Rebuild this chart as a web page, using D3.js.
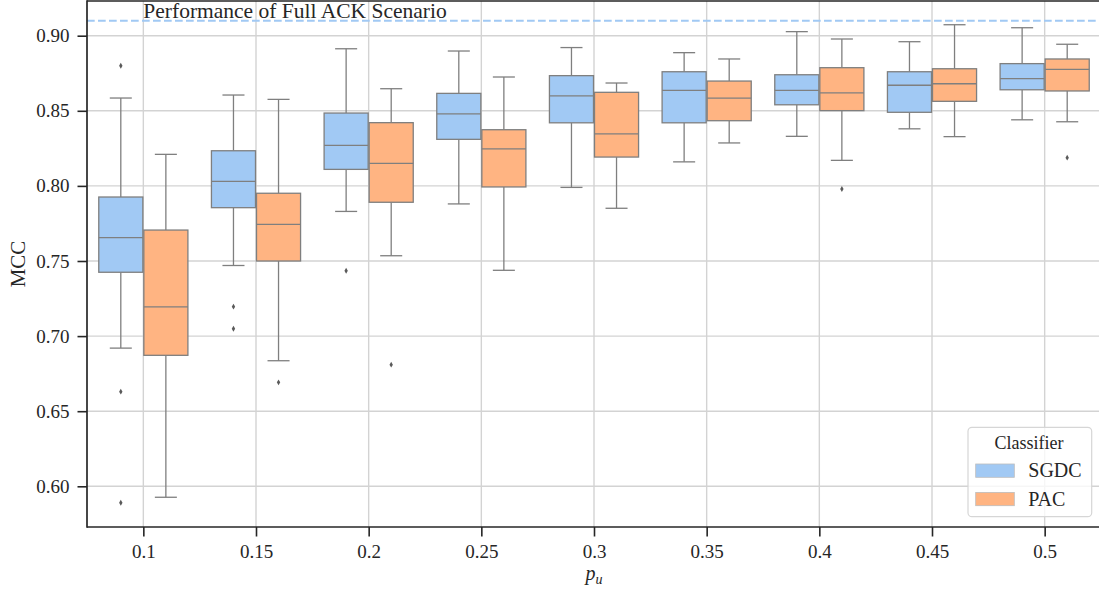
<!DOCTYPE html>
<html>
<head>
<meta charset="utf-8">
<script src="https://cdn.jsdelivr.net/npm/d3@7"></script>
<style>
  body { margin: 0; background: #fff; }
  svg text { font-family: "Liberation Serif", "DejaVu Serif", serif; fill: #262626; }
</style>
</head>
<body>
<svg id="chart" width="1099" height="589"></svg>
<script>
// p_u values on the x axis
let pu = ["0.1", "0.15", "0.2", "0.25", "0.3", "0.35", "0.4", "0.45", "0.5"];
let classifiers = ["SGDC", "PAC"];
let colors = ["#a1c9f4", "#ffb482"];
let yTicks = [0.60, 0.65, 0.70, 0.75, 0.80, 0.85, 0.90];
let fullAck = 0.91;

// SGDC box stats (whisker low, q1, median, q3, whisker high)
let sgdcLow  = [0.692, 0.747, 0.783, 0.788, 0.799, 0.816, 0.833, 0.838, 0.844];
let sgdcQ1   = [0.7425, 0.7855, 0.811, 0.831, 0.842, 0.842, 0.854, 0.849, 0.864];
let sgdcMed  = [0.7655, 0.803, 0.827, 0.848, 0.860, 0.8636, 0.8636, 0.867, 0.8714];
let sgdcQ3   = [0.7926, 0.8234, 0.8485, 0.8616, 0.8734, 0.876, 0.874, 0.876, 0.8814];
let sgdcHigh = [0.8585, 0.8605, 0.8913, 0.8898, 0.8921, 0.8887, 0.9027, 0.896, 0.9053];
let sgdcOut  = [[0.880, 0.663, 0.589], [0.7196, 0.7049], [0.7435], [], [], [], [], [], []];

// PAC box stats
let pacLow  = [0.5927, 0.6836, 0.7535, 0.7438, 0.7851, 0.8286, 0.817, 0.8328, 0.8427];
let pacQ1   = [0.6872, 0.75, 0.7891, 0.7993, 0.8192, 0.8434, 0.8501, 0.8563, 0.8632];
let pacMed  = [0.7194, 0.7744, 0.815, 0.8246, 0.8346, 0.8585, 0.8619, 0.868, 0.8776];
let pacQ3   = [0.7706, 0.7951, 0.8421, 0.8374, 0.8623, 0.8698, 0.8787, 0.878, 0.8845];
let pacHigh = [0.821, 0.8576, 0.8647, 0.8725, 0.8685, 0.8845, 0.8978, 0.9073, 0.8943];
let pacOut  = [[], [0.6692], [0.681], [], [], [], [0.7979], [], [0.8188]];

let plotLeft = 87, plotRight = 1101, plotTop = 1, plotBottom = 527;
let lineGray = "#7f7f7f";
let serif = "'Liberation Serif', 'DejaVu Serif', serif";

let x = d3.scaleLinear().domain([-0.5, pu.length - 0.5]).range([plotLeft, plotRight]);
let y = d3.scaleLinear().domain([0.5729, 0.9231]).range([plotBottom, plotTop]);
let step = x(1) - x(0);

function buildBoxes() {
    let stats = [
        [sgdcLow, sgdcQ1, sgdcMed, sgdcQ3, sgdcHigh, sgdcOut],
        [pacLow, pacQ1, pacMed, pacQ3, pacHigh, pacOut]
    ];
    let boxes = [];
    for (let h = 0; h < classifiers.length; h++) {
        let s = stats[h];
        for (let i = 0; i < pu.length; i++) {
            boxes.push({
                cat: i, hue: h,
                low: s[0][i], q1: s[1][i], med: s[2][i], q3: s[3][i], high: s[4][i],
                out: s[5][i]
            });
        }
    }
    return boxes;
}

function drawChart() {
    let svg = d3.select("#chart");
    let boxes = buildBoxes();
    let boxW = 0.4 * step - 1;
    let centre = function(d) { return x(d.cat) + (d.hue === 0 ? -0.2 : 0.2) * step; };

    svg.append("clipPath").attr("id", "plotClip")
        .append("rect")
        .attr("x", plotLeft).attr("y", plotTop)
        .attr("width", plotRight - plotLeft).attr("height", plotBottom - plotTop);

    // grid
    let grid = svg.append("g").attr("clip-path", "url(#plotClip)");
    grid.selectAll("line.gy")
        .data(yTicks)
        .enter().append("line")
        .attr("x1", plotLeft).attr("x2", plotRight)
        .attr("y1", function(d) { return y(d); })
        .attr("y2", function(d) { return y(d); })
        .style("stroke", "#d3d3d3").style("stroke-width", 1.4);
    grid.selectAll("line.gx")
        .data(pu)
        .enter().append("line")
        .attr("x1", function(d, i) { return x(i); })
        .attr("x2", function(d, i) { return x(i); })
        .attr("y1", plotTop).attr("y2", plotBottom)
        .style("stroke", "#d3d3d3").style("stroke-width", 1.4);

    let plot = svg.append("g").attr("clip-path", "url(#plotClip)");

    // whiskers
    let g = plot.selectAll("g.box")
        .data(boxes)
        .enter().append("g");

    g.append("line")
        .attr("x1", centre).attr("x2", centre)
        .attr("y1", function(d) { return y(d.low); })
        .attr("y2", function(d) { return y(d.q1); })
        .style("stroke", lineGray).style("stroke-width", 1.3);
    g.append("line")
        .attr("x1", centre).attr("x2", centre)
        .attr("y1", function(d) { return y(d.q3); })
        .attr("y2", function(d) { return y(d.high); })
        .style("stroke", lineGray).style("stroke-width", 1.3);
    g.append("line")
        .attr("x1", function(d) { return centre(d) - boxW / 4; })
        .attr("x2", function(d) { return centre(d) + boxW / 4; })
        .attr("y1", function(d) { return y(d.low); })
        .attr("y2", function(d) { return y(d.low); })
        .style("stroke", lineGray).style("stroke-width", 1.3);
    g.append("line")
        .attr("x1", function(d) { return centre(d) - boxW / 4; })
        .attr("x2", function(d) { return centre(d) + boxW / 4; })
        .attr("y1", function(d) { return y(d.high); })
        .attr("y2", function(d) { return y(d.high); })
        .style("stroke", lineGray).style("stroke-width", 1.3);

    // boxes
    g.append("rect")
        .attr("x", function(d) { return centre(d) - boxW / 2; })
        .attr("y", function(d) { return y(d.q3); })
        .attr("width", boxW)
        .attr("height", function(d) { return y(d.q1) - y(d.q3); })
        .style("fill", function(d) { return colors[d.hue]; })
        .style("stroke", lineGray).style("stroke-width", 1.3);
    g.append("line")
        .attr("x1", function(d) { return centre(d) - boxW / 2; })
        .attr("x2", function(d) { return centre(d) + boxW / 2; })
        .attr("y1", function(d) { return y(d.med); })
        .attr("y2", function(d) { return y(d.med); })
        .style("stroke", lineGray).style("stroke-width", 1.3);

    // fliers
    g.selectAll("path")
        .data(function(d) { return d.out.map(function(v) { return {v: v, cx: centre(d)}; }); })
        .enter().append("path")
        .attr("d", d3.symbol().type(d3.symbolDiamond).size(10))
        .attr("transform", function(d) { return "translate(" + d.cx + "," + y(d.v) + ")"; })
        .style("fill", "#5a5a5a");

    // full ACK reference line
    plot.append("line")
        .attr("x1", plotLeft).attr("x2", plotRight)
        .attr("y1", y(fullAck)).attr("y2", y(fullAck))
        .style("stroke", colors[0]).style("stroke-width", 2.1)
        .style("stroke-dasharray", "7.7,3.3");
    svg.append("text")
        .attr("x", x(0))
        .attr("y", y(fullAck) - 2.5)
        .style("font-family", serif)
        .style("font-size", "21.5px")
        .text("Performance of Full ACK Scenario");

    // axes
    let yAxis = d3.axisLeft(y).tickValues(yTicks).tickFormat(d3.format(".2f")).tickSize(9.5).tickPadding(8);
    let xAxis = d3.axisBottom(x).tickValues(d3.range(pu.length))
        .tickFormat(function(i) { return pu[i]; }).tickSize(9.5).tickPadding(8);

    let ya = svg.append("g").attr("transform", "translate(" + plotLeft + ",0)").call(yAxis);
    let xa = svg.append("g").attr("transform", "translate(0," + plotBottom + ")").call(xAxis);
    [ya, xa].forEach(function(a) {
        a.attr("font-family", null);
        a.select(".domain").remove();
        a.selectAll(".tick line").style("stroke", "#262626").style("stroke-width", 1.6);
        a.selectAll(".tick text").style("font-size", "19px").style("font-family", serif).style("fill", "#262626");
    });

    // spines
    svg.append("line").attr("x1", plotLeft).attr("x2", plotLeft).attr("y1", plotTop - 0.8).attr("y2", plotBottom + 0.8)
        .style("stroke", "#262626").style("stroke-width", 1.7);
    svg.append("line").attr("x1", plotLeft).attr("x2", plotRight).attr("y1", plotBottom).attr("y2", plotBottom)
        .style("stroke", "#262626").style("stroke-width", 1.7);
    svg.append("line").attr("x1", plotLeft).attr("x2", plotRight).attr("y1", plotTop).attr("y2", plotTop)
        .style("stroke", "#262626").style("stroke-width", 1.7);

    // axis labels
    svg.append("text")
        .attr("transform", "translate(25," + ((plotTop + plotBottom) / 2) + ") rotate(-90)")
        .attr("text-anchor", "middle")
        .style("font-family", serif)
        .style("font-size", "21px")
        .text("MCC");
    let xl = svg.append("text")
        .attr("x", x(4)).attr("y", 580)
        .attr("text-anchor", "middle")
        .style("font-family", serif)
        .style("font-size", "20px").style("font-style", "italic");
    xl.append("tspan").text("p");
    xl.append("tspan").attr("dy", 4).style("font-size", "14px").text("u");

    // legend
    let lg = svg.append("g");
    lg.append("rect")
        .attr("x", 968).attr("y", 427.3).attr("width", 123.7).attr("height", 89.4)
        .attr("rx", 4)
        .style("fill", "#fff").style("fill-opacity", 0.8)
        .style("stroke", "#d6d6d6").style("stroke-width", 1.2);
    lg.append("text")
        .attr("x", 1029).attr("y", 449.3)
        .attr("text-anchor", "middle")
        .style("font-family", serif)
        .style("font-size", "18px")
        .text("Classifier");
    let items = lg.selectAll("g.item")
        .data(classifiers)
        .enter().append("g")
        .attr("transform", function(d, i) { return "translate(0," + (i * 28.4) + ")"; });
    items.append("rect")
        .attr("x", 975.7).attr("y", 464).attr("width", 38.6).attr("height", 13.3)
        .style("fill", function(d, i) { return colors[i]; })
        .style("stroke", "#bdbdbd").style("stroke-width", 0.8);
    items.append("text")
        .attr("x", 1028.3).attr("y", 477.3)
        .style("font-family", serif)
        .style("font-size", "20px")
        .text(function(d) { return d; });
}

drawChart();
</script>
</body>
</html>
